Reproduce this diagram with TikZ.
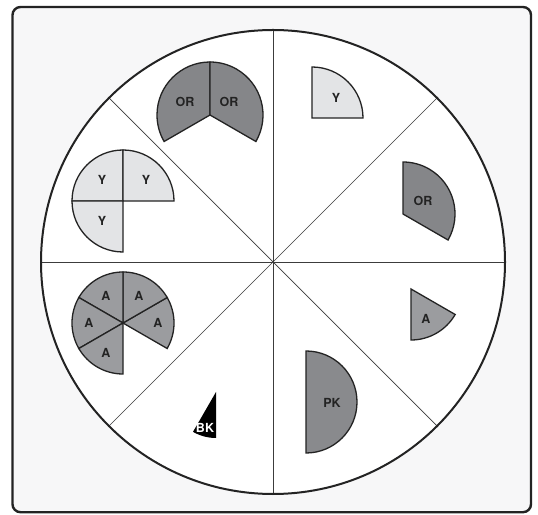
\documentclass[tikz,border=0pt]{standalone}
\usepackage{fontspec}
\setsansfont{TeX Gyre Heros}
\usepackage{xcolor}
\usepackage{tikz}
\definecolor{mydark}{RGB}{35,35,35}
\definecolor{myline}{RGB}{60,60,60}
\definecolor{mybg}{RGB}{247,247,248}
\definecolor{orgray}{RGB}{133,134,137}
\definecolor{agray}{RGB}{155,156,159}
\definecolor{pkgray}{RGB}{137,138,141}
\definecolor{ylight}{RGB}{227,228,230}
\tikzset{
  piece/.style={draw=mydark, line width=1.3pt, line join=miter},
  lbl/.style={font=\sffamily\bfseries\fontsize{12.5}{13}\selectfont,
    text=mydark, inner sep=0pt},
  spoke/.style={draw=myline, line width=0.7pt},
  rim/.style={draw=mydark, line width=2pt}
}

\begin{document}
\begin{tikzpicture}[x=1pt, y=1pt]
  \useasboundingbox (0,0) rectangle (538,514);

  % Frame and wheel
  \filldraw[draw=mydark, fill=mybg, line width=2.4pt, rounded corners=8pt]
    (12.5,1.8) rectangle (531,507);
  \coordinate (ctr) at (273,252);
  \fill[white] (ctr) circle[radius=232];
  \foreach \a in {0,45,...,315}
    \draw[spoke] (ctr) -- ++(\a:232);
  \draw[rim] (ctr) circle[radius=232];

  % Two thirds (OR)
  \coordinate (orc) at (210,399);
  \filldraw[piece, fill=orgray] (orc) -- ++(90:53) arc[start angle=90, end angle=210, radius=53] -- cycle;
  \filldraw[piece, fill=orgray] (orc) -- ++(-30:53) arc[start angle=-30, end angle=90, radius=53] -- cycle;
  \node[lbl] (orl) at (185,412) {OR};
  \node[lbl] (orr) at (229,412) {OR};

  % One quarter (Y)
  \coordinate (yc) at (312,396);
  \filldraw[piece, fill=ylight] (yc) -- ++(0:51) arc[start angle=0, end angle=90, radius=51] -- cycle;
  \node[lbl] (ya) at (336,416) {Y};

  % One third (OR)
  \coordinate (oc) at (403,300);
  \filldraw[piece, fill=orgray] (oc) -- ++(-30:52) arc[start angle=-30, end angle=90, radius=52] -- cycle;
  \node[lbl] (ors) at (423,313) {OR};

  % Three quarters (Y)
  \coordinate (tyc) at (123,313);
  \filldraw[piece, fill=ylight] (tyc) -- ++(90:51) arc[start angle=90, end angle=180, radius=51] -- cycle;
  \filldraw[piece, fill=ylight] (tyc) -- ++(0:51) arc[start angle=0, end angle=90, radius=51] -- cycle;
  \filldraw[piece, fill=ylight] (tyc) -- ++(180:51) arc[start angle=180, end angle=270, radius=51] -- cycle;
  \node[lbl] (ty1) at (102,334) {Y};
  \node[lbl] (ty2) at (146,334) {Y};
  \node[lbl] (ty3) at (102,293) {Y};

  % Five sixths (A)
  \coordinate (fac) at (123,191);
  \foreach \s in {-30,30,90,150,210}
    \filldraw[piece, fill=agray] (fac) -- ++(\s:51) arc[start angle=\s, end angle=\s+60, radius=51] -- cycle;
  \node[lbl] (fa1) at (106,218) {A};
  \node[lbl] (fa2) at (139,218) {A};
  \node[lbl] (fa3) at (89,191) {A};
  \node[lbl] (fa4) at (158,191) {A};
  \node[lbl] (fa5) at (106,161) {A};

  % One sixth (A)
  \coordinate (sac) at (411,225);
  \filldraw[piece, fill=agray] (sac) -- ++(-90:51) arc[start angle=-90, end angle=-30, radius=51] -- cycle;
  \node[lbl] (sa) at (426,195) {A};

  % One half (PK)
  \coordinate (pkc) at (306,112);
  \filldraw[piece, fill=pkgray] (pkc) -- ++(-90:51) arc[start angle=-90, end angle=90, radius=51] -- cycle;
  \node[lbl] (pk) at (332,111) {PK};

  % One twelfth (BK)
  \coordinate (bkc) at (216,122);
  \fill[black] (bkc) -- ++(240:46) arc[start angle=240, end angle=270, radius=46] -- cycle;
  \node[lbl, text=white] (bk) at (205,86) {BK};
\end{tikzpicture}
\end{document}
